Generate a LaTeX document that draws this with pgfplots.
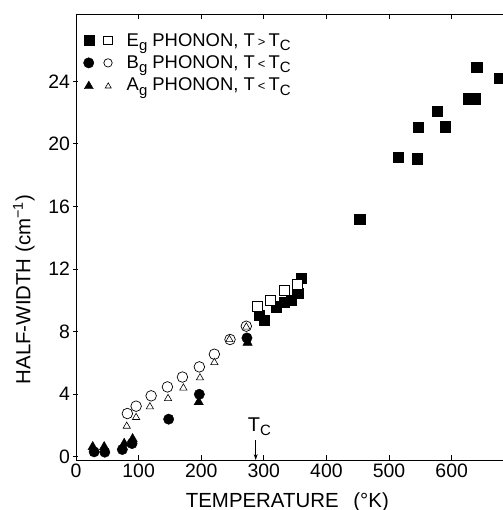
\documentclass[border=0pt]{standalone}
\usepackage{fontspec}
\setmainfont{Liberation Sans}
\usepackage{pgfplots}
\pgfplotsset{compat=1.18}
\usetikzlibrary{calc,arrows.meta}
\newcommand\sub[1]{\raisebox{-0.45ex}{\fontsize{15}{15}\selectfont #1}}
\begin{document}
\begin{tikzpicture}
\begin{axis}[
  name=ax,
  scale only axis,
  width=427bp, height=446bp,
  xmin=0, xmax=682, ymin=-0.2, ymax=28.3,
  axis x line=box, axis y line=left,
  x axis line style={-}, y axis line style={-},
  axis line style={line width=0.8bp},
  xtick={0,100,...,600}, ytick={0,4,...,24},
  major tick length=5bp,
  every tick/.style={black, line width=0.8bp},
  /pgf/number format/assume math mode=true,
  tick label style={font=\fontsize{19.5}{19.5}\selectfont},
  xlabel={TEMPERATURE\ \ \,(°K)},
  ylabel={HALF-WIDTH (cm\textsuperscript{−1})},
  xlabel style={font=\fontsize{20.5}{20.5}\selectfont, at={(axis description cs:0.495,-0.094)}, anchor=center},
  ylabel style={font=\fontsize{20.5}{20.5}\selectfont, at={(axis description cs:-0.122,0.382)}, anchor=center, rotate=0},
  legend style={at={(axis description cs:0.012,0.966)}, anchor=north west, draw=none, fill=none,
    font=\fontsize{18.5}{18.5}\selectfont, row sep=4bp, inner sep=2bp},
  legend cell align=left,
  clip=false,
]
% legend images
\addlegendimage{legend image code/.code={
  \path[draw=none,fill=none] (0bp,0bp) rectangle (41bp,0.1bp);
  \fill[black] (0bp,-5bp) rectangle (10.5bp,5.5bp);
  \draw[black,line width=0.7bp,fill=white] (20bp,-4.3bp) rectangle (28.6bp,4.3bp);}}
\addlegendentry{E\sub{g}\ PHONON, T\,{\fontsize{13}{13}\selectfont >}\,T\sub{C}}
\addlegendimage{legend image code/.code={
  \path[draw=none,fill=none] (0bp,0bp) rectangle (41bp,0.1bp);
  \fill[black] (5bp,0bp) circle (5.2bp);
  \draw[black,line width=0.7bp,fill=white] (24.3bp,0bp) circle (4.2bp);}}
\addlegendentry{B\sub{g}\ PHONON, T\,{\fontsize{13}{13}\selectfont <}\,T\sub{C}}
\addlegendimage{legend image code/.code={
  \path[draw=none,fill=none] (0bp,0bp) rectangle (41bp,0.1bp);
  \fill[black] (0.6bp,-3.5bp) -- (9.6bp,-3.5bp) -- (5.1bp,4.2bp) -- cycle;
  \draw[black,line width=0.6bp,fill=white] (21.5bp,-2.8bp) -- (27.5bp,-2.8bp) -- (24.5bp,2.4bp) -- cycle;}}
\addlegendentry{A\sub{g}\ PHONON, T\,{\fontsize{13}{13}\selectfont <}\,T\sub{C}}

% E_g filled squares
\addplot[only marks, mark=square*, mark size=5.2bp, black, mark options={fill=black}] coordinates {
(293,9.05) (301,8.75) (320,9.6) (333,9.9) (344,10.0) (354,10.45) (360,11.4)
(453,15.2) (515,19.15) (545,19.05) (547,21.05) (577,22.1) (590,21.1)
(627,22.9) (637,22.9) (640,24.9) (677,24.2)};
% B_g filled circles
\addplot[only marks, mark=*, mark size=5.2bp, black, mark options={fill=black}] coordinates {
(29,0.32) (46,0.30) (74,0.47) (89.5,0.85) (148,2.41) (197,4.0) (273,7.6)};
% A_g filled triangles
\addplot[only marks, mark=triangle*, mark size=5.4bp, black, mark options={fill=black}] coordinates {
(26.7,0.64) (45,0.64) (77,0.85) (90.4,1.15) (196,3.5) (274,7.3)};
% B_g open circles
\addplot[only marks, mark=*, mark size=5.3bp, black, mark options={fill=white, line width=0.7bp}] coordinates {
(82,2.77) (96,3.24) (120,3.9) (146,4.47) (170,5.1) (197,5.75) (221,6.56) (246,7.5) (272,8.35)};
% A_g open triangles
\addplot[only marks, mark=triangle*, mark size=4.2bp, black, mark options={fill=white, line width=0.6bp}] coordinates {
(81,1.96) (96,2.52) (118,3.2) (147,3.73) (171.5,4.4) (198,5.05) (221,6.03) (245,7.5) (272,8.3)};
% E_g open squares
\addplot[only marks, mark=square*, mark size=5.0bp, black, mark options={fill=white, line width=0.7bp}] coordinates {
(290,9.6) (310,10.0) (333,10.65) (353,11.05)};

\draw[-{Stealth[length=6bp,width=4bp]}, line width=0.8bp] (axis cs:287,1.05) -- (axis cs:287,-0.2);
\node[font=\fontsize{20}{20}\selectfont, anchor=south] at (axis cs:293,1.1) {T\sub{C}};
\end{axis}
\pgfresetboundingbox
\path ($(ax.south west)+(-76bp,-50bp)$) rectangle ($(ax.north east)+(0bp,14bp)$);
\end{tikzpicture}
\end{document}
